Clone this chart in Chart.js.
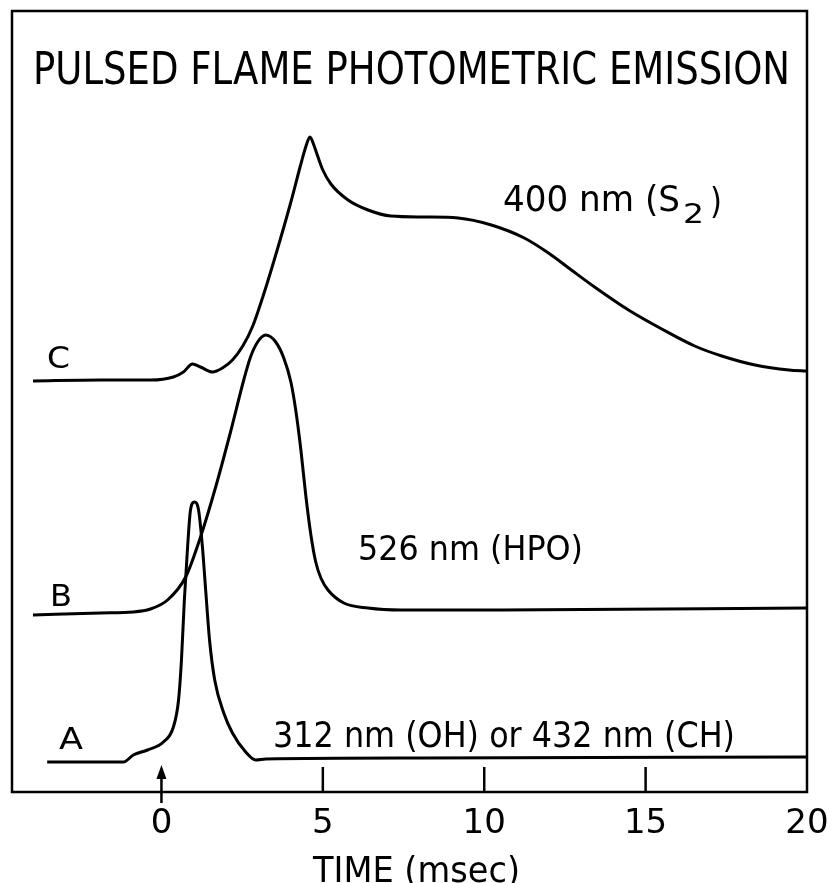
<!DOCTYPE html>
<html><head><meta charset="utf-8">
<script src="https://cdn.jsdelivr.net/npm/chart.js@4.4.1/dist/chart.umd.min.js"></script>
<style>html,body{margin:0;padding:0;background:#fff}#wrap{width:832px;height:883px}</style>
</head><body><div id="wrap"><canvas id="c" width="832" height="883"></canvas></div>
<script>
// ---- data (time in msec, emission in arbitrary units) ----
const timeA = [-3.54,-1.18,-0.87,-0.43,0.06,0.37,0.53,0.62,0.71,0.81,0.90,1.02,1.15,1.27,1.37,1.49,1.65,1.93,2.20,2.61,2.92,3.23,8.04,20];
const emisA = [30,30,37,42,50,65,92,132,192,245,282,290,282,245,202,152,112,79,59,40,32,33,34,35];

const timeB = [-3.98,-1.89,-0.87,-0.34,0.19,0.75,1.21,1.68,2.14,2.55,2.76,2.98,3.23,3.54,3.79,4.01,4.16,4.32,4.47,4.63,4.78,4.94,5.16,5.65,6.40,7.42,10.53,20];
const emisB = [177,179,180,183,192,215,255,305,360,412,435,450,457,450,434,410,382,342,297,257,230,214,202,189,184,182,182,184];

const timeC = [-3.98,-1.89,-0.34,0.37,0.68,0.96,1.21,1.58,1.89,2.20,2.52,2.83,3.14,3.54,4.01,4.32,4.47,4.60,4.72,4.84,5.00,5.25,5.78,6.40,7.11,8.14,9.19,10.22,11.24,11.99,12.70,13.42,14.47,15.50,16.52,17.36,18.39,19.44,20];
const emisC = [411,412,412,415,420,428,425,420,424,432,446,466,495,537,590,628,645,655,647,636,622,608,592,582,576,575,574,567,554,539,522,505,482,463,446,436,427,422,421];

const tickValues = [5,10,15];
const tickLabelValues = [0,5,10,15,20];
const tickLabels = ['0','5','10','15','20'];
const curveNames = ['A','B','C'];
const titleText = 'PULSED FLAME PHOTOMETRIC EMISSION';
const xAxisTitle = 'TIME (msec)';
const annotA = '312 nm (OH) or 432 nm (CH)';
const annotB = '526 nm (HPO)';
const annotC = ['400 nm (S', '2', ')'];

function pts(xs, ys){ return xs.map((x,i)=>({x:x, y:ys[i]})); }

const FONT = '"DejaVu Sans", sans-serif';
function fitText(ctx, text, x1, x2, baseline, size){
  ctx.save();
  ctx.font = size + 'px ' + FONT;
  const w = ctx.measureText(text).width;
  const sx = (x2 - x1) / w;
  ctx.translate(x1, baseline);
  ctx.scale(sx, 1);
  ctx.textAlign = 'left';
  ctx.textBaseline = 'alphabetic';
  ctx.fillText(text, 0, 0);
  ctx.restore();
}
function centerText(ctx, text, cx, baseline, size){
  ctx.save();
  ctx.font = size + 'px ' + FONT;
  ctx.textAlign = 'center';
  ctx.textBaseline = 'alphabetic';
  ctx.fillText(text, cx, baseline);
  ctx.restore();
}

const decor = {
  id: 'decor',
  afterDraw(chart){
    const ctx = chart.ctx, a = chart.chartArea;
    const xs = chart.scales.x;
    ctx.save();
    ctx.fillStyle = '#000'; ctx.strokeStyle = '#000';
    // frame
    ctx.lineWidth = 2.5;
    ctx.strokeRect(a.left, a.top, a.right - a.left, a.bottom - a.top);
    // inward ticks
    tickValues.forEach(v => {
      const px = xs.getPixelForValue(v);
      ctx.beginPath(); ctx.moveTo(px, a.bottom); ctx.lineTo(px, a.bottom - 25); ctx.stroke();
    });
    // arrow at t = 0
    const x0 = xs.getPixelForValue(0);
    ctx.beginPath(); ctx.moveTo(x0, a.bottom + 11); ctx.lineTo(x0, a.bottom - 16); ctx.stroke();
    ctx.beginPath(); ctx.moveTo(x0, a.bottom - 27); ctx.lineTo(x0 - 5, a.bottom - 13); ctx.lineTo(x0 + 5, a.bottom - 13); ctx.closePath(); ctx.fill();
    // tick labels
    tickLabelValues.forEach((v, i) => {
      centerText(ctx, tickLabels[i], xs.getPixelForValue(v), a.bottom + 41, 34);
    });
    // axis title
    fitText(ctx, xAxisTitle, 313, 520, 882, 36);
    // chart title
    fitText(ctx, titleText, 33, 790, 84, 44);
    // curve letters
    fitText(ctx, curveNames[2], 47, 70, 368, 31);
    fitText(ctx, curveNames[1], 50, 72, 606, 31);
    fitText(ctx, curveNames[0], 59, 83, 749, 31);
    // annotations
    fitText(ctx, annotA, 273, 735, 747, 35);
    fitText(ctx, annotB, 358, 583, 560, 34);
    fitText(ctx, annotC[0], 503, 680, 211, 35);
    fitText(ctx, annotC[1], 683, 704, 223, 27);
    fitText(ctx, annotC[2], 710, 722, 213, 35);
    ctx.restore();
  }
};

const lineStyle = {borderColor:'#000', borderWidth:3, pointRadius:0, fill:false, cubicInterpolationMode:'monotone'};

new Chart(document.getElementById('c'), {
  type: 'line',
  data: {
    datasets: [
      Object.assign({label: curveNames[0], data: pts(timeA, emisA)}, lineStyle),
      Object.assign({label: curveNames[1], data: pts(timeB, emisB)}, lineStyle),
      Object.assign({label: curveNames[2], data: pts(timeC, emisC)}, lineStyle)
    ]
  },
  options: {
    responsive: false,
    devicePixelRatio: 1,
    animation: false,
    layout: {padding: {left: 12, top: 11, right: 25, bottom: 91}},
    plugins: {legend: {display: false}, tooltip: {enabled: false}, title: {display: false}},
    scales: {
      x: {type: 'linear', min: -4.63, max: 20, display: false},
      y: {type: 'linear', min: 0, max: 781, display: false}
    }
  },
  plugins: [decor]
});
</script>
</body></html>
